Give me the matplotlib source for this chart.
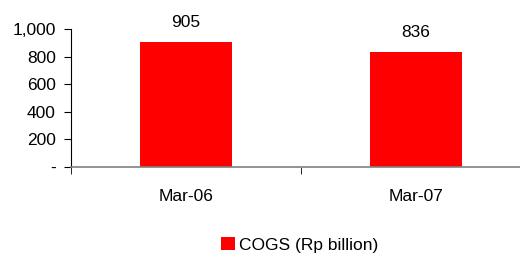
import matplotlib
matplotlib.use("Agg")
import matplotlib.pyplot as plt
from matplotlib.ticker import FixedLocator, FuncFormatter
from matplotlib.patches import Patch

plt.rcParams['font.family'] = ['Liberation Sans', 'DejaVu Sans']

categories = ["Mar-06", "Mar-07"]
values = [905, 836]
series_name = "COGS (Rp billion)"
yticks = [0, 200, 400, 600, 800, 1000]

FS = 12.5
fig = plt.figure(figsize=(5.2, 2.57), dpi=100)
ax = fig.add_axes([71/520, (257-167)/257, 460/520, 138/257])
x = list(range(len(categories)))
ax.bar(x, values, width=0.4, color="#ff0000", zorder=2)
for xi, v in zip(x, values):
    ax.text(xi, v + 108, f"{v:,}", ha="center", va="baseline", fontsize=FS)

ax.set_xlim(-0.5, len(categories) - 0.5)
ax.set_ylim(0, 1000)
ax.set_yticks(yticks)
ax.yaxis.set_major_formatter(FuncFormatter(lambda v, p: "-" if v == 0 else f"{int(v):,}"))
ax.set_xticks(x)
ax.set_xticklabels(categories)
ax.xaxis.set_minor_locator(FixedLocator([i - 0.5 for i in range(len(categories) + 1)]))
ax.tick_params(axis="x", which="major", length=0, pad=16, labelsize=FS)
ax.tick_params(axis="x", which="minor", length=5, direction="out", color="black")
ax.tick_params(axis="y", length=5, direction="out", labelsize=FS, pad=6)
for s in ["top", "right"]:
    ax.spines[s].set_visible(False)
ax.spines["bottom"].set_color("#808080")
ax.spines["bottom"].set_linewidth(1.2)
ax.spines["left"].set_color("black")

handle = Patch(facecolor="#ff0000", edgecolor="none")
fig.legend([handle], [series_name], loc="center", bbox_to_anchor=(300/520, 1 - 245/257),
           frameon=False, fontsize=FS, handlelength=0.8, handleheight=0.8, handletextpad=0.25)

fig.savefig("out.png", dpi=100)
